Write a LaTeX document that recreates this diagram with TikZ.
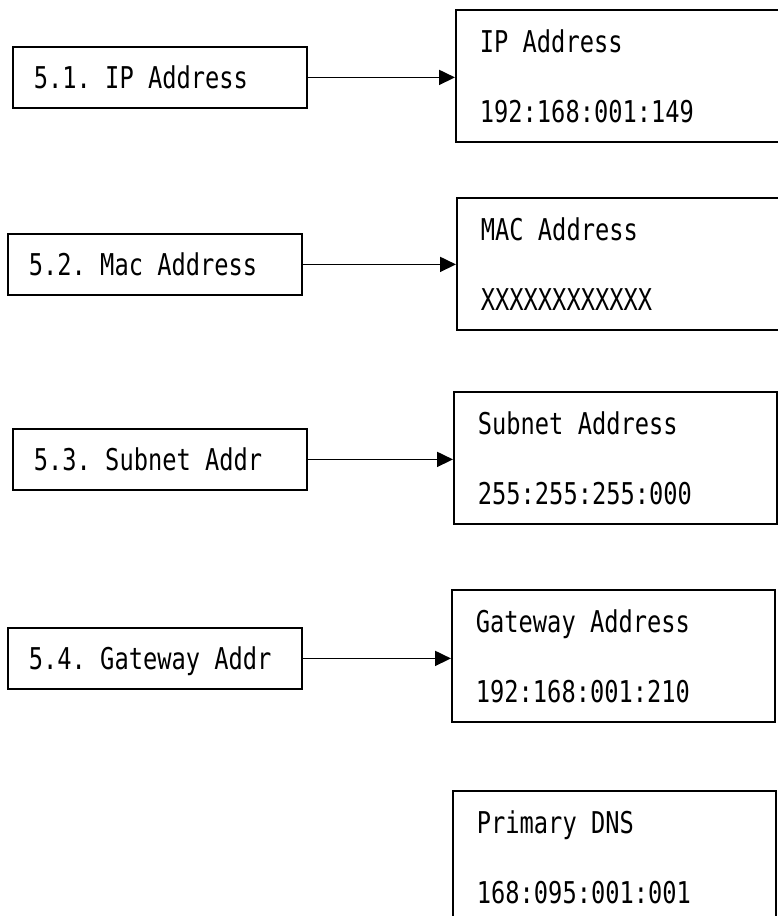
\documentclass[tikz,border=0pt]{standalone}
\usepackage{fontspec}
\newfontfamily\gothicfont[FakeStretch=0.79]{DejaVu Sans Mono}
\newcommand\cellspace{\spaceskip=\fontcharwd\font48\relax\xspaceskip=\spaceskip}
\usetikzlibrary{arrows.meta}

\begin{document}
\begin{tikzpicture}[x=1pt,y=-1pt,
        menu/.style={draw,line width=1.8pt,anchor=north west,text width=252pt,align=left,
            inner xsep=21pt,inner ysep=0pt,minimum height=61pt,text height=22pt,text depth=0pt,
            font=\gothicfont\fontsize{30}{36}\selectfont,execute at begin node=\cellspace},
        screen/.style={draw,line width=1.8pt,anchor=north west,text width=275pt,align=left,
            inner xsep=24pt,inner ysep=0pt,minimum height=132pt,
            font=\gothicfont\fontsize{30}{70}\selectfont,execute at begin node=\cellspace},
        goto/.style={line width=1.8pt,-{Triangle[length=16pt,width=15pt]}}]

    \useasboundingbox (0,0) rectangle (778,916);

    % Menu entries
    \node[menu] (ip) at (12,46) {5.1. IP Address};
    \node[menu] (mac) at (7,233) {5.2. Mac Address};
    \node[menu] (subnet) at (12,428) {5.3. Subnet Addr};
    \node[menu] (gateway) at (7,627) {5.4. Gateway Addr};

    % Screens shown for each entry
    \node[screen] (ipscr) at (455,9) {IP Address\\192:168:001:149};
    \node[screen] (macscr) at (456,197) {MAC Address\\XXXXXXXXXXXX};
    \node[screen] (subscr) at (453,391) {Subnet Address\\255:255:255:000};
    \node[screen] (gwscr) at (451,589) {Gateway Address\\192:168:001:210};
    \node[screen] (dnsscr) at (452,790) {Primary DNS\\168:095:001:001};

    % Entry to screen
    \draw[goto] (ip.east) -- (ip.east -| ipscr.west);
    \draw[goto] (mac.east) -- (mac.east -| macscr.west);
    \draw[goto] (subnet.east) -- (subnet.east -| subscr.west);
    \draw[goto] (gateway.east) -- (gateway.east -| gwscr.west);
\end{tikzpicture}
\end{document}
